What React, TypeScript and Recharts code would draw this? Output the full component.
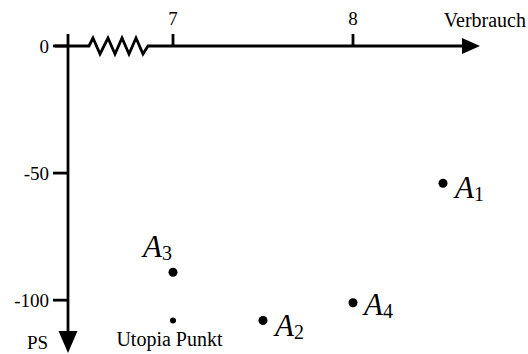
import { ScatterChart, Scatter, XAxis, YAxis } from 'recharts';

const W = 528;
const H = 354;

// Alternativen
const names = ['A1', 'A2', 'A3', 'A4'];
const verbrauch = [8.5, 7.5, 7.0, 8.0];
const ps = [-54, -108, -89, -101];

// Utopia Punkt
const utopiaLabel = 'Utopia Punkt';
const utopiaVerbrauch = [7.0];
const utopiaPs = [-108];

const xTicks = [7, 8];
const yTicks = [0, -50, -100];
const X_DOMAIN = [6.4167, 8.65];
const Y_DOMAIN = [-120, 0];

const MARGIN = { top: 16, right: 58, bottom: 3, left: 8 };
const X_AXIS_H = 30;
const Y_AXIS_W = 60;
const OX = MARGIN.left + Y_AXIS_W; // origin x (y axis)
const OY = MARGIN.top + X_AXIS_H; // origin y (x axis)
const PLOT_RIGHT = W - MARGIN.right;
const PLOT_BOTTOM = H - MARGIN.bottom;

const FONT = 'Liberation Serif, DejaVu Serif, serif';
const STROKE = 2.8;

// label offsets from the dot, in px
const LABEL_OFFSET: Record<string, [number, number]> = {
  A1: [12, 15],
  A2: [12, 15],
  A3: [-30, -15],
  A4: [11, 12],
};

const altData = names.map((name, i) => ({ name, x: verbrauch[i], y: ps[i] }));
const utopiaData = utopiaVerbrauch.map((x, i) => ({ name: utopiaLabel, x, y: utopiaPs[i] }));

const AltDot = (props: any) => {
  const { cx, cy, payload } = props;
  const [dx, dy] = LABEL_OFFSET[payload.name] || [12, 15];
  return (
    <g>
      <circle cx={cx} cy={cy} r={4.5} fill="#000" />
      <text x={cx + dx} y={cy + dy} style={{ fontFamily: FONT }} fill="#000">
        <tspan fontStyle="italic" fontSize={31}>A</tspan>
        <tspan fontSize={20} dy={3}>{payload.name.slice(1)}</tspan>
      </text>
    </g>
  );
};

const UtopiaDot = (props: any) => {
  const { cx, cy, payload } = props;
  return (
    <g>
      <circle cx={cx} cy={cy} r={3} fill="#000" />
      <text x={cx - 3.5} y={cy + 25} textAnchor="middle" style={{ fontFamily: FONT }} fontSize={20} fill="#000">
        {payload.name}
      </text>
    </g>
  );
};

// axis lines with break, arrows and titles
const AxisDecor = () => {
  const zig = [
    [21, 0], [25, -8], [32, 8], [40, -8], [47, 8], [54, -8], [61, 8], [68, -8], [75, 8], [80, 0],
  ];
  const xPath =
    `M${OX - 13},${OY} H${OX + zig[0][0]} ` +
    zig.map(([dx, dy]) => `L${OX + dx},${OY + dy}`).join(' ') +
    ` H${PLOT_RIGHT - 8}`;
  return (
    <svg width={W} height={H} style={{ position: 'absolute', left: 0, top: 0, pointerEvents: 'none' }}>
      <path d={xPath} fill="none" stroke="#000" strokeWidth={STROKE} strokeLinejoin="miter" />
      <polygon points={`${PLOT_RIGHT - 8},${OY - 8} ${PLOT_RIGHT + 10},${OY} ${PLOT_RIGHT - 8},${OY + 8}`} fill="#000" />
      <path d={`M${OX},${OY - 12} V${PLOT_BOTTOM - 18}`} fill="none" stroke="#000" strokeWidth={STROKE} />
      <polygon points={`${OX - 9.5},${PLOT_BOTTOM - 20} ${OX},${PLOT_BOTTOM + 2} ${OX + 9.5},${PLOT_BOTTOM - 20}`} fill="#000" />
      <text x={526} y={27} textAnchor="end" style={{ fontFamily: FONT }} fontSize={20} fill="#000">Verbrauch</text>
      <text x={27} y={349} style={{ fontFamily: FONT }} fontSize={19} fill="#000">PS</text>
    </svg>
  );
};

export default function App() {
  return (
    <div style={{ position: 'absolute', left: 0, top: 0, width: W, height: H, background: '#fff', fontFamily: FONT }}>
      <ScatterChart width={W} height={H} margin={MARGIN} style={{ fontFamily: FONT }}>
        <XAxis
          type="number"
          dataKey="x"
          orientation="top"
          domain={X_DOMAIN}
          ticks={xTicks}
          interval={0}
          axisLine={false}
          tickLine={{ stroke: '#000', strokeWidth: STROKE }}
          tickSize={12}
          tickMargin={9}
          height={X_AXIS_H}
          tick={{ fill: '#000', fontSize: 19, fontFamily: FONT }}
        />
        <YAxis
          type="number"
          dataKey="y"
          domain={Y_DOMAIN}
          ticks={yTicks}
          interval={0}
          axisLine={false}
          tickLine={{ stroke: '#000', strokeWidth: STROKE }}
          tickSize={15}
          tickMargin={4}
          width={Y_AXIS_W}
          tick={{ fill: '#000', fontSize: 19, fontFamily: FONT }}
        />
        <Scatter data={altData} shape={AltDot} isAnimationActive={false} />
        <Scatter data={utopiaData} shape={UtopiaDot} isAnimationActive={false} />
      </ScatterChart>
      <AxisDecor />
    </div>
  );
}
